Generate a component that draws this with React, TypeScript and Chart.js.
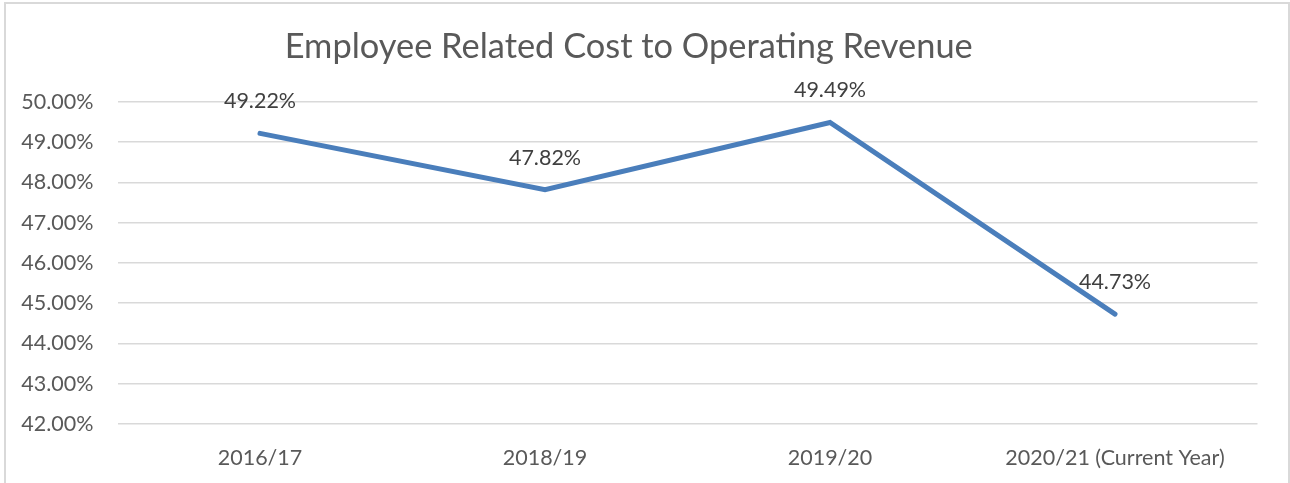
import React, { useEffect, useRef } from "react";
import { Chart, registerables } from "chart.js";

Chart.register(...registerables);

const categories = ["2016/17", "2018/19", "2019/20", "2020/21 (Current Year)"];
const ratioValues = [49.22, 47.82, 49.49, 44.73];
const yMin = 42;
const yMax = 50;
const titleText = "Employee Related Cost to Operating Revenue";

const FONT = "Lato, 'Open Sans', sans-serif";

const dataLabelPlugin = {
  id: "dataLabels",
  afterDatasetsDraw(chart: any) {
    const ctx = chart.ctx;
    const meta = chart.getDatasetMeta(0);
    ctx.save();
    ctx.font = `21.5px ${FONT}`;
    ctx.fillStyle = "#404040";
    ctx.textAlign = "center";
    ctx.textBaseline = "middle";
    meta.data.forEach((pt: any, i: number) => {
      const v = chart.data.datasets[0].data[i] as number;
      ctx.fillText(v.toFixed(2) + "%", pt.x, pt.y - 32);
    });
    ctx.restore();
  },
};

export default function App() {
  const ref = useRef<HTMLCanvasElement>(null);
  useEffect(() => {
    if (!ref.current) return;
    const chart = new Chart(ref.current, {
      type: "line",
      data: {
        labels: categories,
        datasets: [
          {
            data: ratioValues,
            borderColor: "#4a7ebb",
            borderWidth: 5,
            borderCapStyle: "round",
            borderJoinStyle: "miter",
            pointRadius: 0,
            tension: 0,
            fill: false,
          },
        ],
      },
      options: {
        responsive: false,
        animation: false,
        layout: { padding: { left: 0, right: 32.5, top: 0, bottom: 0 } },
        plugins: {
          legend: { display: false },
          tooltip: { enabled: false },
          title: {
            display: true,
            text: titleText,
            color: "#595959",
            font: { family: FONT, size: 34.4, weight: "normal" },
            padding: { top: 26.4, bottom: 34.3 },
          },
        },
        scales: {
          x: {
            type: "category",
            offset: true,
            grid: { display: false, drawTicks: false },
            border: { display: false },
            ticks: {
              color: "#595959",
              font: { family: FONT, size: 21.5 },
              padding: 21,
              maxRotation: 0,
              autoSkip: false,
            },
            afterFit(scale: any) {
              scale.height = 59;
            },
          },
          y: {
            min: yMin,
            max: yMax,
            grid: { color: "#d9d9d9", lineWidth: 1.5, drawTicks: false },
            border: { display: false },
            ticks: {
              stepSize: 1,
              color: "#595959",
              font: { family: FONT, size: 21.5 },
              padding: 24,
              callback: (v: any) => Number(v).toFixed(2) + "%",
            },
            afterFit(scale: any) {
              scale.width = 117.5;
            },
          },
        },
      },
      plugins: [dataLabelPlugin],
    });
    return () => chart.destroy();
  }, []);

  return (
    <div style={{ position: "fixed", left: 0, top: 0, width: 1290, height: 483, background: "#fff", overflow: "hidden" }}>
      <canvas ref={ref} width={1290} height={483} style={{ position: "absolute", left: 0, top: 0, width: 1290, height: 483 }} />
      <div
        style={{
          position: "absolute",
          left: 4,
          top: 2,
          width: 1286,
          height: 520,
          boxSizing: "border-box",
          border: "2px solid #d9d9d9",
          pointerEvents: "none",
        }}
      />
    </div>
  );
}
